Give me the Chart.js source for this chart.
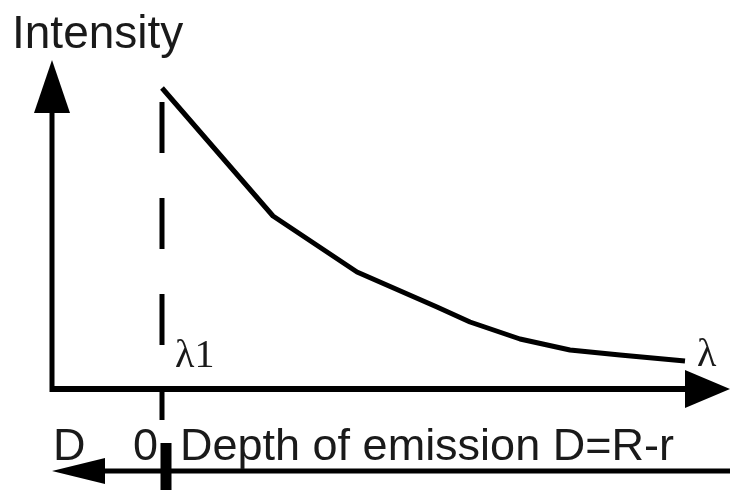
<!DOCTYPE html>
<html>
<head>
<meta charset="utf-8">
<script src="https://cdn.jsdelivr.net/npm/chart.js@4/dist/chart.umd.min.js"></script>
<style>
  html, body { margin: 0; padding: 0; background: #fff; }
  #wrap { width: 730px; height: 490px; }
</style>
</head>
<body>
<div id="wrap"><canvas id="c" width="730" height="490"></canvas></div>
<script>
// wavelength (axis origin = 0) and intensity
const wavelength = [110, 221, 305, 385, 418, 468, 518, 568, 633];
const intensity  = [301, 173, 117, 82, 67, 50, 39, 34, 28];

// marker at lambda1 (dashed line) and the depth zero mark
const lambda1 = 110;
const lambda1Top = 287;
const lambda1Bottom = 42;
const depthZero = 114;

// axis extents
const xAxisEnd = 633;
const yAxisEnd = 276;
const depthAxisY = -82;
const depthAxisEnd = 678;

const labels = {
  yTitle: 'Intensity',
  lambda1: 'λ1',
  lambda: 'λ',
  depth: 'D',
  zero: '0',
  depthTitle: 'Depth of emission D=R-r'
};

const black = '#000';

// arrowheads + text, placed from the scales
const decorations = {
  id: 'decorations',
  afterDatasetsDraw(chart) {
    const ctx = chart.ctx;
    const xs = chart.scales.x, ys = chart.scales.y;
    const px = v => xs.getPixelForValue(v);
    const py = v => ys.getPixelForValue(v);

    const tri = (a, b, c) => {
      ctx.beginPath();
      ctx.moveTo(a[0], a[1]);
      ctx.lineTo(b[0], b[1]);
      ctx.lineTo(c[0], c[1]);
      ctx.closePath();
      ctx.fill();
    };
    ctx.save();
    ctx.fillStyle = black;
    // up arrow on intensity axis
    tri([px(0), py(yAxisEnd) - 53], [px(0) - 18, py(yAxisEnd)], [px(0) + 18, py(yAxisEnd)]);
    // right arrow on wavelength axis
    tri([px(xAxisEnd) + 45, py(0)], [px(xAxisEnd), py(0) - 19], [px(xAxisEnd), py(0) + 19]);
    // left arrow on depth axis
    tri([px(0), py(depthAxisY)], [px(0) + 53, py(depthAxisY) - 13], [px(0) + 53, py(depthAxisY) + 13]);

    ctx.fillStyle = '#1a1a1a';
    ctx.textBaseline = 'alphabetic';
    ctx.textAlign = 'left';
    ctx.font = '46px "Liberation Sans", Arial, sans-serif';
    ctx.fillText(labels.yTitle, px(0) - 40, 48);

    ctx.font = '40px "Liberation Serif", "Times New Roman", serif';
    ctx.fillText(labels.lambda1, px(lambda1) + 13, py(0) - 22);
    ctx.fillText(labels.lambda, px(xAxisEnd) + 12, py(0) - 23);

    ctx.font = '45px "Liberation Sans", Arial, sans-serif';
    ctx.fillText(labels.depth, px(0) + 1, 460);
    ctx.fillText(labels.zero, px(lambda1) - 29, 460);
    ctx.fillText(labels.depthTitle, px(lambda1) + 18, 460);
    ctx.restore();
  }
};

const line = (data, extra) => Object.assign({
  data: data,
  borderColor: black,
  borderWidth: 5,
  pointRadius: 0,
  fill: false,
  tension: 0
}, extra);

new Chart(document.getElementById('c'), {
  type: 'line',
  data: {
    datasets: [
      // intensity axis
      line([{ x: 0, y: -3 }, { x: 0, y: yAxisEnd }], { borderWidth: 5 }),
      // wavelength axis
      line([{ x: -2, y: 0 }, { x: xAxisEnd, y: 0 }], { borderWidth: 6 }),
      // tick under lambda1
      line([{ x: lambda1, y: -3 }, { x: lambda1, y: -31 }], { borderWidth: 5 }),
      // depth axis
      line([{ x: 50, y: depthAxisY }, { x: depthAxisEnd, y: depthAxisY }], { borderWidth: 5 }),
      // depth zero mark
      line([{ x: depthZero, y: -54 }, { x: depthZero, y: -101 }], { borderWidth: 11 }),
      // lambda1 dashed marker
      line([{ x: lambda1, y: lambda1Top }, { x: lambda1, y: lambda1Bottom }], { borderWidth: 5, borderDash: [51, 45] }),
      // emission spectrum
      line(wavelength.map((w, i) => ({ x: w, y: intensity[i] })), { borderWidth: 5, borderJoinStyle: 'round' })
    ]
  },
  options: {
    responsive: false,
    animation: false,
    layout: { padding: 0 },
    plugins: { legend: { display: false }, tooltip: { enabled: false } },
    scales: {
      x: { type: 'linear', min: -52, max: 678, display: false },
      y: { type: 'linear', min: -101, max: 389, display: false }
    }
  },
  plugins: [decorations]
});
</script>
</body>
</html>
